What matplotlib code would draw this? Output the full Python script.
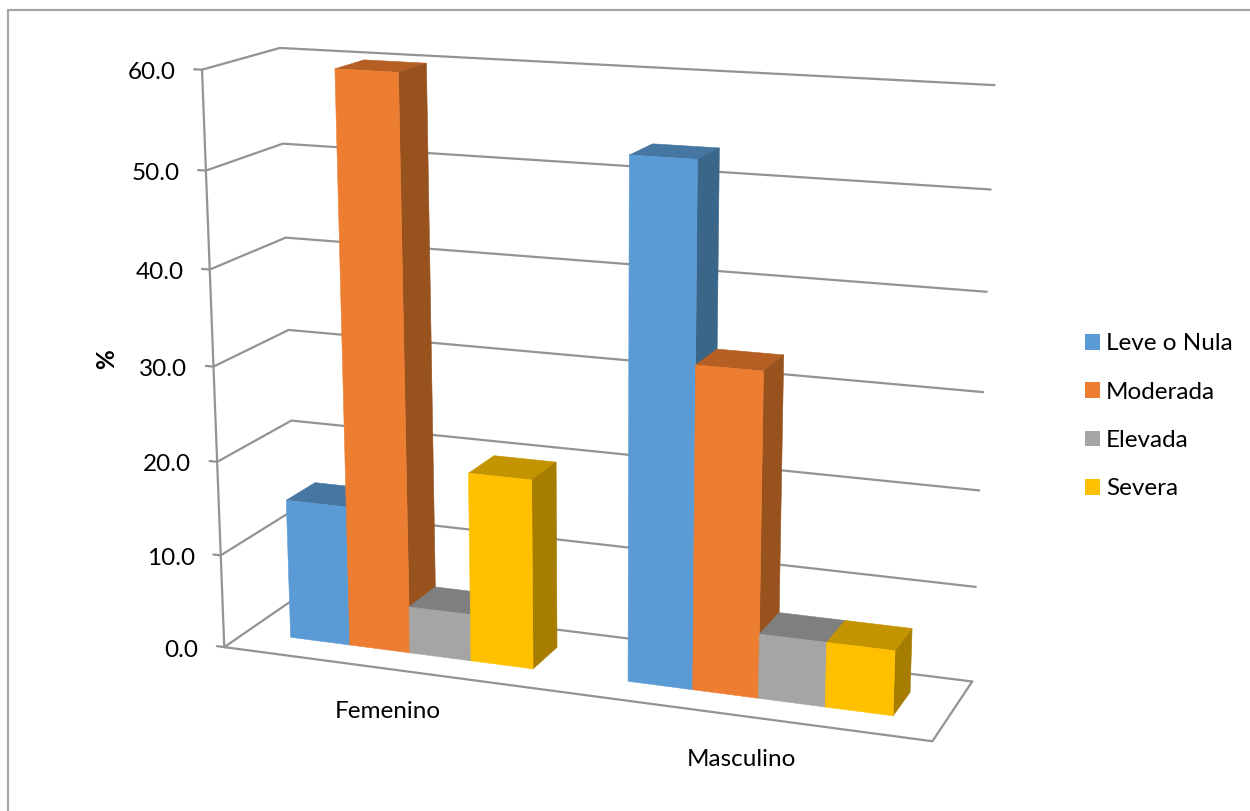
import numpy as np
import matplotlib
matplotlib.use("Agg")
import matplotlib.pyplot as plt
from matplotlib.patches import Patch

plt.rcParams["font.family"] = ["Lato", "DejaVu Sans"]

categories = ["Femenino", "Masculino"]
series_names = ["Leve o Nula", "Moderada", "Elevada", "Severa"]
femenino = [15.0, 60.0, 5.0, 20.0]
masculino = [53.3, 33.3, 6.7, 6.7]
z_ticks = [0, 10, 20, 30, 40, 50, 60]

face_colors = ["#5B9BD5", "#ED7D31", "#A5A5A5", "#FFC000"]
top_colors = ["#4676A2", "#B55F24", "#7F7F7F", "#C49300"]
side_colors = ["#3A6689", "#97521E", "#6C6C6C", "#A67D00"]
grid_color = "#939393"

W, H = 1250, 811

# chart box corners: (category, depth, value) -> pixel position
box_pts = [
    (0, 0, 60, 201.5, 70.5), (0, 0, 50, 206, 171), (0, 0, 40, 209.7, 269),
    (0, 0, 30, 213.5, 366), (0, 0, 20, 217.3, 461.7), (0, 0, 10, 220.7, 555.3),
    (0, 0, 0, 224.3, 647.3),
    (0, 1, 60, 279.7, 48), (0, 1, 50, 283, 143.5), (0, 1, 40, 286, 237.5),
    (0, 1, 30, 288.7, 329.5), (0, 1, 20, 291, 420), (0, 1, 10, 294, 511),
    (0, 1, 0, 297, 597),
    (2, 1, 60, 994.7, 85), (2, 1, 50, 990.3, 189.3), (2, 1, 40, 987, 292),
    (2, 1, 30, 983, 392), (2, 1, 20, 979.5, 491), (2, 1, 10, 975.7, 587),
    (2, 1, 0, 971.7, 681),
    (2, 0, 0, 932.7, 741.3),
]


def fit_camera(pts):
    rows, rhs = [], []
    for x, y, z, u, v in pts:
        rows.append([x, y, z, 1, 0, 0, 0, 0, -u * x, -u * y, -u * z])
        rhs.append(u)
        rows.append([0, 0, 0, 0, x, y, z, 1, -v * x, -v * y, -v * z])
        rhs.append(v)
    p = np.linalg.lstsq(np.array(rows, float), np.array(rhs, float), rcond=None)[0]
    return np.append(p, 1).reshape(3, 4)


cam = fit_camera(box_pts)


def to_px(x, y, z):
    q = cam @ np.array([x, y, z, 1.0])
    return q[0] / q[2], q[1] / q[2]


def px_text(u, v, s, **kw):
    return fig.text(u / W, 1 - v / H, s, **kw)


fig = plt.figure(figsize=(W / 100, H / 100), dpi=100)
ax = fig.add_axes([0, 0, 1, 1], projection="3d")
ax.set_axis_off()
ax.computed_zorder = False
ax.set_proj_type("ortho")  # no near-plane clipping of the lines
ax.apply_aspect = lambda position=None: None
ax.set_position([0, 0, 1, 1])


# mplot3d projection replaced by the fitted camera, output in axes data units
def camera_proj():
    flip = np.array([[1, 0, 0], [0, -1, H], [0, 0, 1.0]])
    p = ax.transData.inverted().get_matrix() @ flip @ cam
    return np.vstack([p[0], p[1], [0, 1, 0, 0], p[2]])


ax.get_proj = camera_proj

# walls and floor
line_kw = dict(color=grid_color, lw=1.6, zorder=1, solid_capstyle="round")
for z in z_ticks:
    ax.plot([-0.023, 0, 0, 2], [0, 0, 1, 1], [z, z, z, z], **line_kw)
ax.plot([0, 0], [0, 0], [0, 60], **line_kw)
ax.plot([0, 2, 2], [0, 0, 1], [0, 0, 0], **line_kw)

# bars: gap width 150 %, depth 0.3 to 0.7
bar_w = 1 / 5.5
hidden = (0, 0, 0, 0)
for i, values in enumerate([femenino, masculino]):
    for j, val in enumerate(values):
        left = i + 0.75 * bar_w + j * bar_w
        # face order in bar3d: bottom, top, front, back, left, right
        colors = [hidden, top_colors[j], face_colors[j], hidden, hidden, side_colors[j]]
        ax.bar3d(left, 0.3, 0, bar_w, 0.4, val, color=colors, shade=False,
                 zorder=10 + 4 * i + j, edgecolor=colors, linewidth=0.4)

for z in z_ticks:
    u, v = to_px(0, 0, z)
    px_text(u - 26, v + 3, "%.1f" % z, ha="right", va="center", fontsize=17.5, color="black")

px_text(107, 359, "%", rotation=90, ha="center", va="center", fontsize=17.5, fontweight="bold")
px_text(388, 712, categories[0], ha="center", va="center", fontsize=17.5, color="black")
px_text(741, 760, categories[1], ha="center", va="center", fontsize=17.5, color="black")

handles = [Patch(facecolor=c, edgecolor="none") for c in face_colors]
fig.legend(handles, series_names, loc="upper left", bbox_to_anchor=(1078 / W, 1 - 326 / H),
           frameon=False, fontsize=17.5, handlelength=0.62, handleheight=0.62,
           handletextpad=0.24, labelspacing=1.125, borderpad=0.3, borderaxespad=0)

# chart area border, open at the bottom and right
fig.add_artist(plt.Line2D([7.5 / W, 7.5 / W, 1], [0, 1 - 10 / H, 1 - 10 / H],
                          color="#A6A6A6", lw=1.6, transform=fig.transFigure))

fig.savefig("out.png", dpi=100)
